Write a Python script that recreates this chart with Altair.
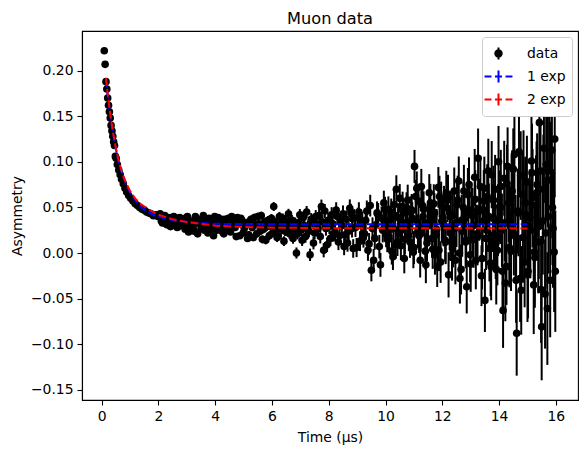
import altair as alt
import pandas as pd

# ---- early (fast-relaxing) part of the asymmetry ----
t_early = [0.09, 0.12, 0.15, 0.18, 0.21, 0.24, 0.27, 0.30, 0.33, 0.36, 0.39, 0.42,
           0.45, 0.48, 0.51, 0.55, 0.60, 0.65, 0.70, 0.76, 0.82, 0.88, 0.95, 1.02,
           1.10, 1.18, 1.26, 1.34, 1.42, 1.50, 1.58, 1.66, 1.74, 1.82, 1.90, 1.98]
a_early = [0.222, 0.207, 0.188, 0.180, 0.170, 0.162, 0.155, 0.148, 0.140, 0.134, 0.128, 0.122,
           0.118, 0.106, 0.104, 0.097, 0.091, 0.086, 0.081, 0.076, 0.071, 0.067, 0.063, 0.060,
           0.057, 0.054, 0.052, 0.050, 0.048, 0.047, 0.045, 0.044, 0.043, 0.041, 0.042, 0.040]
e_early = [0.0010, 0.0010, 0.0010, 0.0010, 0.0010, 0.0010, 0.0010, 0.0010, 0.0010, 0.0011, 0.0011, 0.0011,
           0.0011, 0.0011, 0.0011, 0.0011, 0.0011, 0.0012, 0.0012, 0.0012, 0.0012, 0.0012, 0.0012, 0.0013,
           0.0013, 0.0013, 0.0013, 0.0014, 0.0014, 0.0014, 0.0014, 0.0015, 0.0015, 0.0015, 0.0016, 0.0016]

# ---- later part (noisy baseline), first set of bins ----
t_late = [
    2.06, 2.14, 2.22, 2.30, 2.38, 2.46, 2.54, 2.62, 2.70, 2.78,
    2.86, 2.94, 3.02, 3.10, 3.18, 3.26, 3.34, 3.42, 3.50, 3.58,
    3.66, 3.74, 3.82, 3.90, 3.98, 4.06, 4.14, 4.22, 4.30, 4.38,
    4.46, 4.54, 4.62, 4.70, 4.78, 4.86, 4.94, 5.02, 5.10, 5.18,
    5.26, 5.34, 5.42, 5.50, 5.58, 5.66, 5.74, 5.82, 5.90, 5.98,
    6.06, 6.14, 6.22, 6.30, 6.38, 6.46, 6.54, 6.62, 6.70, 6.78,
    6.86, 6.94, 7.02, 7.10, 7.18, 7.26, 7.34, 7.42, 7.50, 7.58,
    7.66, 7.74, 7.82, 7.90, 7.98, 8.06, 8.14, 8.22, 8.30, 8.38,
    8.46, 8.54, 8.62, 8.70, 8.78, 8.86, 8.94, 9.02, 9.10, 9.18,
    9.26, 9.34, 9.42, 9.50, 9.58, 9.66, 9.74, 9.82, 9.90, 9.98,
    10.06, 10.14, 10.22, 10.30, 10.38, 10.46, 10.54, 10.62, 10.70, 10.78,
    10.86, 10.94, 11.02, 11.10, 11.18, 11.26, 11.34, 11.42, 11.50, 11.58,
    11.66, 11.74, 11.82, 11.90, 11.98, 12.06, 12.14, 12.22, 12.30, 12.38,
    12.46, 12.54, 12.62, 12.70, 12.78, 12.86, 12.94, 13.02, 13.10, 13.18,
    13.26, 13.34, 13.42, 13.50, 13.58, 13.66, 13.74, 13.82, 13.90, 13.98,
    14.06, 14.14, 14.22, 14.30, 14.38, 14.46, 14.54, 14.62, 14.70, 14.78,
    14.86, 14.94, 15.02, 15.10, 15.18, 15.26, 15.34, 15.42, 15.50, 15.58,
    15.66, 15.70, 15.74, 15.78, 15.82, 15.86, 15.90, 15.94, 15.98]
a_late = [
    0.043, 0.033, 0.041, 0.031, 0.039, 0.030, 0.040, 0.036, 0.029, 0.038,
    0.037, 0.026, 0.040, 0.030, 0.035, 0.024, 0.038, 0.033, 0.027, 0.041,
    0.034, 0.022, 0.036, 0.029, 0.040, 0.025, 0.031, 0.037, 0.021, 0.033,
    0.038, 0.023, 0.035, 0.028, 0.039, 0.019, 0.036, 0.027, 0.033, 0.020,
    0.037, 0.017, 0.031, 0.040, 0.024, 0.015, 0.034, 0.029, 0.019, 0.038,
    0.051, 0.027, 0.019, 0.032, 0.038, 0.024, 0.030, 0.021, 0.036, 0.028,
    0.000, 0.033, 0.025, 0.039, 0.018, 0.029, -0.002, 0.035, 0.022, 0.031,
    0.041, 0.051, 0.003, 0.027, 0.036, 0.016, 0.032, 0.023, 0.040, 0.019,
    0.030, 0.007, 0.037, 0.024, 0.044, 0.005, 0.028, 0.039, 0.013, 0.034,
    0.021, 0.046, 0.010, -0.019, -0.008, 0.031, 0.042, -0.013, 0.025, 0.048,
    0.015, 0.036, 0.002, 0.053, 0.070, 0.022, 0.008, 0.044, 0.029, 0.058,
    0.012, 0.038, 0.095, 0.071, 0.019, 0.073, 0.048, -0.013, 0.030, 0.055,
    0.004, -0.002, -0.015, 0.062, 0.035, 0.050, 0.066, -0.024, 0.043, 0.010,
    -0.008, 0.058, -0.028, 0.024, 0.040, -0.037, 0.075, 0.047, 0.015, -0.008,
    0.104, 0.073, 0.035, -0.052, 0.062, 0.005, 0.086, 0.020, -0.018, 0.100,
    0.073, -0.063, -0.033, 0.095, 0.030, 0.068, 0.108, -0.088, 0.111, -0.041,
    0.085, 0.042, -0.020, 0.025, 0.060, -0.005, 0.075, 0.143, -0.081, 0.115,
    0.097, -0.061, 0.040, 0.155, 0.080, 0.113, 0.027, 0.001, -0.020]
e_late = [
    0.0017, 0.0017, 0.0018, 0.0018, 0.0019, 0.0019, 0.0019, 0.0020, 0.0020, 0.0021,
    0.0021, 0.0022, 0.0022, 0.0023, 0.0023, 0.0024, 0.0024, 0.0025, 0.0025, 0.0026,
    0.0026, 0.0027, 0.0027, 0.0028, 0.0029, 0.0029, 0.0030, 0.0030, 0.0031, 0.0032,
    0.0032, 0.0033, 0.0034, 0.0035, 0.0035, 0.0036, 0.0037, 0.0037, 0.0038, 0.0039,
    0.0040, 0.0041, 0.0042, 0.0042, 0.0043, 0.0044, 0.0045, 0.0046, 0.0047, 0.0048,
    0.0049, 0.0050, 0.0051, 0.0052, 0.0053, 0.0054, 0.0055, 0.0056, 0.0058, 0.0059,
    0.0061, 0.0062, 0.0063, 0.0064, 0.0066, 0.0067, 0.0068, 0.0070, 0.0071, 0.0073,
    0.0075, 0.0076, 0.0078, 0.0080, 0.0081, 0.0083, 0.0085, 0.0087, 0.0088, 0.0090,
    0.0092, 0.0094, 0.0096, 0.0098, 0.0100, 0.0102, 0.0105, 0.0107, 0.0109, 0.0111,
    0.0114, 0.0116, 0.0119, 0.0121, 0.0124, 0.0126, 0.0129, 0.0131, 0.0134, 0.0137,
    0.0141, 0.0144, 0.0147, 0.0150, 0.0153, 0.0156, 0.0159, 0.0163, 0.0166, 0.0170,
    0.0173, 0.0177, 0.0181, 0.0185, 0.0189, 0.0193, 0.0197, 0.0201, 0.0205, 0.0209,
    0.0214, 0.0218, 0.0223, 0.0228, 0.0233, 0.0237, 0.0242, 0.0248, 0.0253, 0.0258,
    0.0264, 0.0269, 0.0275, 0.0281, 0.0287, 0.0293, 0.0299, 0.0306, 0.0312, 0.0319,
    0.0326, 0.0333, 0.0340, 0.0347, 0.0354, 0.0362, 0.0369, 0.0377, 0.0385, 0.0394,
    0.0402, 0.0411, 0.0419, 0.0428, 0.0437, 0.0447, 0.0456, 0.0466, 0.0476, 0.0486,
    0.0496, 0.0507, 0.0517, 0.0528, 0.0540, 0.0551, 0.0563, 0.0575, 0.0587, 0.0599,
    0.0612, 0.0618, 0.0625, 0.0631, 0.0638, 0.0644, 0.0651, 0.0658, 0.0665]

# ---- later part, interleaved bins ----
t_mid = [
    2.10, 2.18, 2.26, 2.34, 2.42, 2.50, 2.58, 2.66, 2.74, 2.82,
    2.90, 2.98, 3.06, 3.14, 3.22, 3.30, 3.38, 3.46, 3.54, 3.62,
    3.70, 3.78, 3.86, 3.94, 4.02, 4.10, 4.18, 4.26, 4.34, 4.42,
    4.50, 4.58, 4.66, 4.74, 4.82, 4.90, 4.98, 5.06, 5.14, 5.22,
    5.30, 5.38, 5.46, 5.54, 5.62, 5.70, 5.78, 5.86, 5.94, 6.02,
    6.10, 6.18, 6.26, 6.34, 6.42, 6.50, 6.58, 6.66, 6.74, 6.82,
    6.90, 6.98, 7.06, 7.14, 7.22, 7.30, 7.38, 7.46, 7.54, 7.62,
    7.70, 7.78, 7.86, 7.94, 8.02, 8.10, 8.18, 8.26, 8.34, 8.42,
    8.50, 8.58, 8.66, 8.74, 8.82, 8.90, 8.98, 9.06, 9.14, 9.22,
    9.30, 9.38, 9.46, 9.54, 9.62, 9.70, 9.78, 9.86, 9.94, 10.02,
    10.10, 10.18, 10.26, 10.34, 10.42, 10.50, 10.58, 10.66, 10.74, 10.82,
    10.90, 10.98, 11.06, 11.14, 11.22, 11.30, 11.38, 11.46, 11.54, 11.62,
    11.70, 11.78, 11.86, 11.94, 12.02, 12.10, 12.18, 12.26, 12.34, 12.42,
    12.50, 12.58, 12.66, 12.74, 12.82, 12.90, 12.98, 13.06, 13.14, 13.22,
    13.30, 13.38, 13.46, 13.54, 13.62, 13.70, 13.78, 13.86, 13.94, 14.02,
    14.10, 14.18, 14.26, 14.34, 14.42, 14.50, 14.58, 14.66, 14.74, 14.82,
    14.90, 14.98, 15.06, 15.14, 15.22, 15.30, 15.38, 15.46, 15.54, 15.62]
a_mid = [
    0.035, 0.040, 0.032, 0.037, 0.029, 0.036, 0.033, 0.028, 0.039, 0.031,
    0.030, 0.039, 0.023, 0.034, 0.029, 0.040, 0.021, 0.032, 0.036, 0.025,
    0.031, 0.038, 0.026, 0.019, 0.034, 0.039, 0.027, 0.023, 0.037, 0.028,
    0.025, 0.040, 0.030, 0.018, 0.033, 0.038, 0.022, 0.031, 0.016, 0.035,
    0.028, 0.039, 0.021, 0.032, 0.041, 0.026, 0.014, 0.036, 0.030, 0.022,
    0.034, 0.017, 0.040, 0.026, 0.013, 0.035, 0.043, 0.025, 0.016, 0.033,
    0.021, 0.042, 0.014, 0.030, 0.045, 0.024, 0.037, 0.011, 0.040, 0.027,
    0.018, 0.034, 0.046, 0.009, 0.029, 0.042, 0.021, 0.047, 0.012, 0.035,
    0.043, 0.020, 0.011, 0.049, 0.027, 0.038, 0.006, 0.045, 0.032, 0.017,
    0.036, 0.003, 0.052, 0.027, 0.016, 0.044, 0.007, 0.038, 0.055, 0.020,
    0.048, 0.026, -0.004, 0.041, 0.012, 0.060, 0.032, -0.006, 0.050, 0.019,
    0.045, 0.001, 0.062, 0.024, -0.008, 0.052, 0.030, 0.011, 0.066, 0.037,
    0.054, 0.020, 0.072, -0.010, 0.039, 0.014, 0.058, 0.028, -0.005, 0.068,
    0.033, 0.079, -0.018, 0.050, 0.012, 0.064, -0.002, 0.041, 0.083, 0.021,
    0.046, -0.025, 0.057, 0.016, 0.090, -0.011, 0.038, 0.070, 0.003, 0.051,
    0.025, 0.082, -0.015, 0.055, 0.002, 0.092, 0.018, 0.046, -0.028, 0.064,
    -0.010, 0.078, 0.030, 0.101, -0.035, 0.052, 0.012, 0.090, 0.035, -0.045]

# ---- later part, third set of bins in the noisy tail ----
t_tail = [
    10.04, 10.12, 10.20, 10.28, 10.36, 10.44, 10.52, 10.60, 10.68, 10.76,
    10.84, 10.92, 11.00, 11.08, 11.16, 11.24, 11.32, 11.40, 11.48, 11.56,
    11.64, 11.72, 11.80, 11.88, 11.96, 12.04, 12.12, 12.20, 12.28, 12.36,
    12.44, 12.52, 12.60, 12.68, 12.76, 12.84, 12.92, 13.00, 13.08, 13.16,
    13.24, 13.32, 13.40, 13.48, 13.56, 13.64, 13.72, 13.80, 13.88, 13.96,
    14.04, 14.12, 14.20, 14.28, 14.36, 14.44, 14.52, 14.60, 14.68, 14.76,
    14.84, 14.92, 15.00, 15.08, 15.16, 15.24, 15.32, 15.40, 15.48, 15.56,
    15.64, 15.72, 15.80, 15.88, 15.96]
a_tail = [
    0.032, 0.018, 0.045, 0.027, 0.009, 0.039, 0.024, 0.051, 0.015, 0.034,
    0.029, 0.047, 0.006, 0.036, 0.057, 0.021, 0.040, 0.002, 0.033, 0.049,
    0.016, 0.044, 0.026, 0.003, 0.055, 0.031, 0.012, 0.061, 0.022, 0.041,
    0.027, 0.053, 0.000, 0.036, 0.068, 0.014, 0.045, -0.012, 0.030, 0.059,
    0.019, 0.048, -0.006, 0.071, 0.025, 0.040, -0.015, 0.058, 0.010, 0.036,
    0.050, -0.020, 0.033, 0.076, 0.006, 0.062, 0.021, -0.030, 0.044, 0.085,
    0.017, 0.055, -0.024, 0.039, 0.088, 0.001, 0.066, 0.029, -0.040, 0.070,
    0.022, 0.090, -0.030, 0.050, 0.125]

# ---- fitted curves ----
t_fit = [0.15, 0.20, 0.25, 0.30, 0.35, 0.40, 0.50, 0.60, 0.70, 0.80, 0.90, 1.00,
         1.20, 1.40, 1.60, 1.80, 2.00, 2.50, 3.00, 3.50, 4.00, 5.00, 6.00, 8.00, 15.00]
fit_1exp = [0.190, 0.176, 0.163, 0.151, 0.141, 0.131, 0.114, 0.100, 0.089, 0.080, 0.072, 0.066,
            0.057, 0.050, 0.046, 0.042, 0.040, 0.036, 0.034, 0.033, 0.032, 0.0318, 0.0316, 0.0315, 0.0315]
fit_2exp = [0.192, 0.178, 0.165, 0.153, 0.142, 0.132, 0.115, 0.101, 0.090, 0.081, 0.074, 0.068,
            0.059, 0.053, 0.049, 0.045, 0.042, 0.037, 0.034, 0.032, 0.030, 0.0285, 0.0278, 0.0273, 0.0270]

series_names = ["data", "1 exp", "2 exp"]
series_colors = ["black", "#0000ff", "#ff0000"]
x_ticks = [0, 2, 4, 6, 8, 10, 12, 14, 16]
y_ticks = [-0.15, -0.10, -0.05, 0.00, 0.05, 0.10, 0.15, 0.20]

# interleaved bins sit right next to the first set, so their bars share its read-off sizes
t_all = t_early + t_late + t_mid + t_tail
a_all = a_early + a_late + a_mid + a_tail
e_all = e_early + e_late + e_late[:len(t_mid)] + e_late[100:100 + len(t_tail)]
df_data = pd.DataFrame({
    "t": t_all,
    "y": a_all,
    "lo": [a - e for a, e in zip(a_all, e_all)],
    "hi": [a + e for a, e in zip(a_all, e_all)],
    "series": "data",
})
df_fit = pd.concat([
    pd.DataFrame({"t": t_fit, "y": fit_1exp, "series": "1 exp"}),
    pd.DataFrame({"t": t_fit, "y": fit_2exp, "series": "2 exp"}),
])


def ring(r):
    return f"M{r},0A{r},{r} 0 1,1 -{r},0A{r},{r} 0 1,1 {r},0"


# legend glyphs: errorbar marker (filled dot + bar) and dashed line with bar
data_path = "M0,-0.63V0.63" + "".join(ring(r) for r in [0.08, 0.16, 0.25, 0.34])
line_path = "M-1.47,0H-0.74M-0.37,0H0.37M0.74,0H1.47M0,-0.63V0.63"

FONT = "DejaVu Sans"
xscale = alt.Scale(domain=[-0.695, 16.78], nice=False, zero=False)
yscale = alt.Scale(domain=[-0.1613, 0.2436], nice=False, zero=False)
cscale = alt.Scale(domain=series_names, range=series_colors)
sscale = alt.Scale(domain=series_names, range=[data_path, line_path, line_path])

legend = alt.Legend(
    title=None, orient="top-right", offset=6, symbolSize=361, symbolStrokeWidth=2,
    symbolOpacity=1,
    labelFont=FONT, labelFontSize=13.9, labelColor="black", labelOffset=18,
    padding=6, rowPadding=2, fillColor="white", strokeColor="#cccccc", cornerRadius=3,
)

xaxis = alt.Axis(values=x_ticks, format="d", title="Time (μs)", grid=False,
                 titleX=248, titleY=37, titleBaseline="middle")
yaxis = alt.Axis(values=y_ticks, format=".2f", title="Asymmetry", grid=False,
                 titleX=-65, titleY=184.5, titleBaseline="middle", titleAngle=270)

X = alt.X("t:Q", scale=xscale, axis=xaxis)

# empty layer that only carries the legend
legend_layer = alt.Chart(df_data).transform_filter("false").mark_point(
    filled=False, opacity=1).encode(
    x=X,
    y=alt.Y("y:Q", scale=yscale, axis=yaxis),
    color=alt.Color("series:N", scale=cscale, legend=legend),
    shape=alt.Shape("series:N", scale=sscale, legend=legend),
)
rules = alt.Chart(df_data).mark_rule(strokeWidth=2).encode(
    x=X,
    y=alt.Y("lo:Q", scale=yscale, axis=yaxis),
    y2="hi:Q",
    color=alt.Color("series:N", scale=cscale, legend=None),
)
points = alt.Chart(df_data).mark_circle(size=58, opacity=1).encode(
    x=X,
    y=alt.Y("y:Q", scale=yscale, axis=yaxis),
    color=alt.Color("series:N", scale=cscale, legend=None),
)
lines = alt.Chart(df_fit).mark_line(strokeWidth=2, strokeDash=[7.7, 3.3]).encode(
    x=X,
    y=alt.Y("y:Q", scale=yscale, axis=yaxis),
    color=alt.Color("series:N", scale=cscale, legend=None),
    order="t:Q",
)

chart = alt.layer(legend_layer, rules, points, lines).properties(
    width=496, height=369,
    autosize=alt.AutoSizeParams(type="none"),
    padding={"left": 74, "top": 23, "right": 1, "bottom": 49},
    title=alt.Title("Muon data", font=FONT, fontSize=16.2, fontWeight="normal",
                    color="black", anchor="middle", offset=4),
).configure_view(
    stroke="black", strokeWidth=1.1
).configure_axis(
    labelFont=FONT, labelFontSize=13.9, labelColor="black",
    titleFont=FONT, titleFontSize=13.9, titleFontWeight="normal", titleColor="black",
    tickColor="black", tickSize=5, tickWidth=1.1, domainColor="black", domainWidth=1.1,
    labelPadding=4,
)

chart.save("out.html", embed_options={"renderer": "svg", "actions": False})
